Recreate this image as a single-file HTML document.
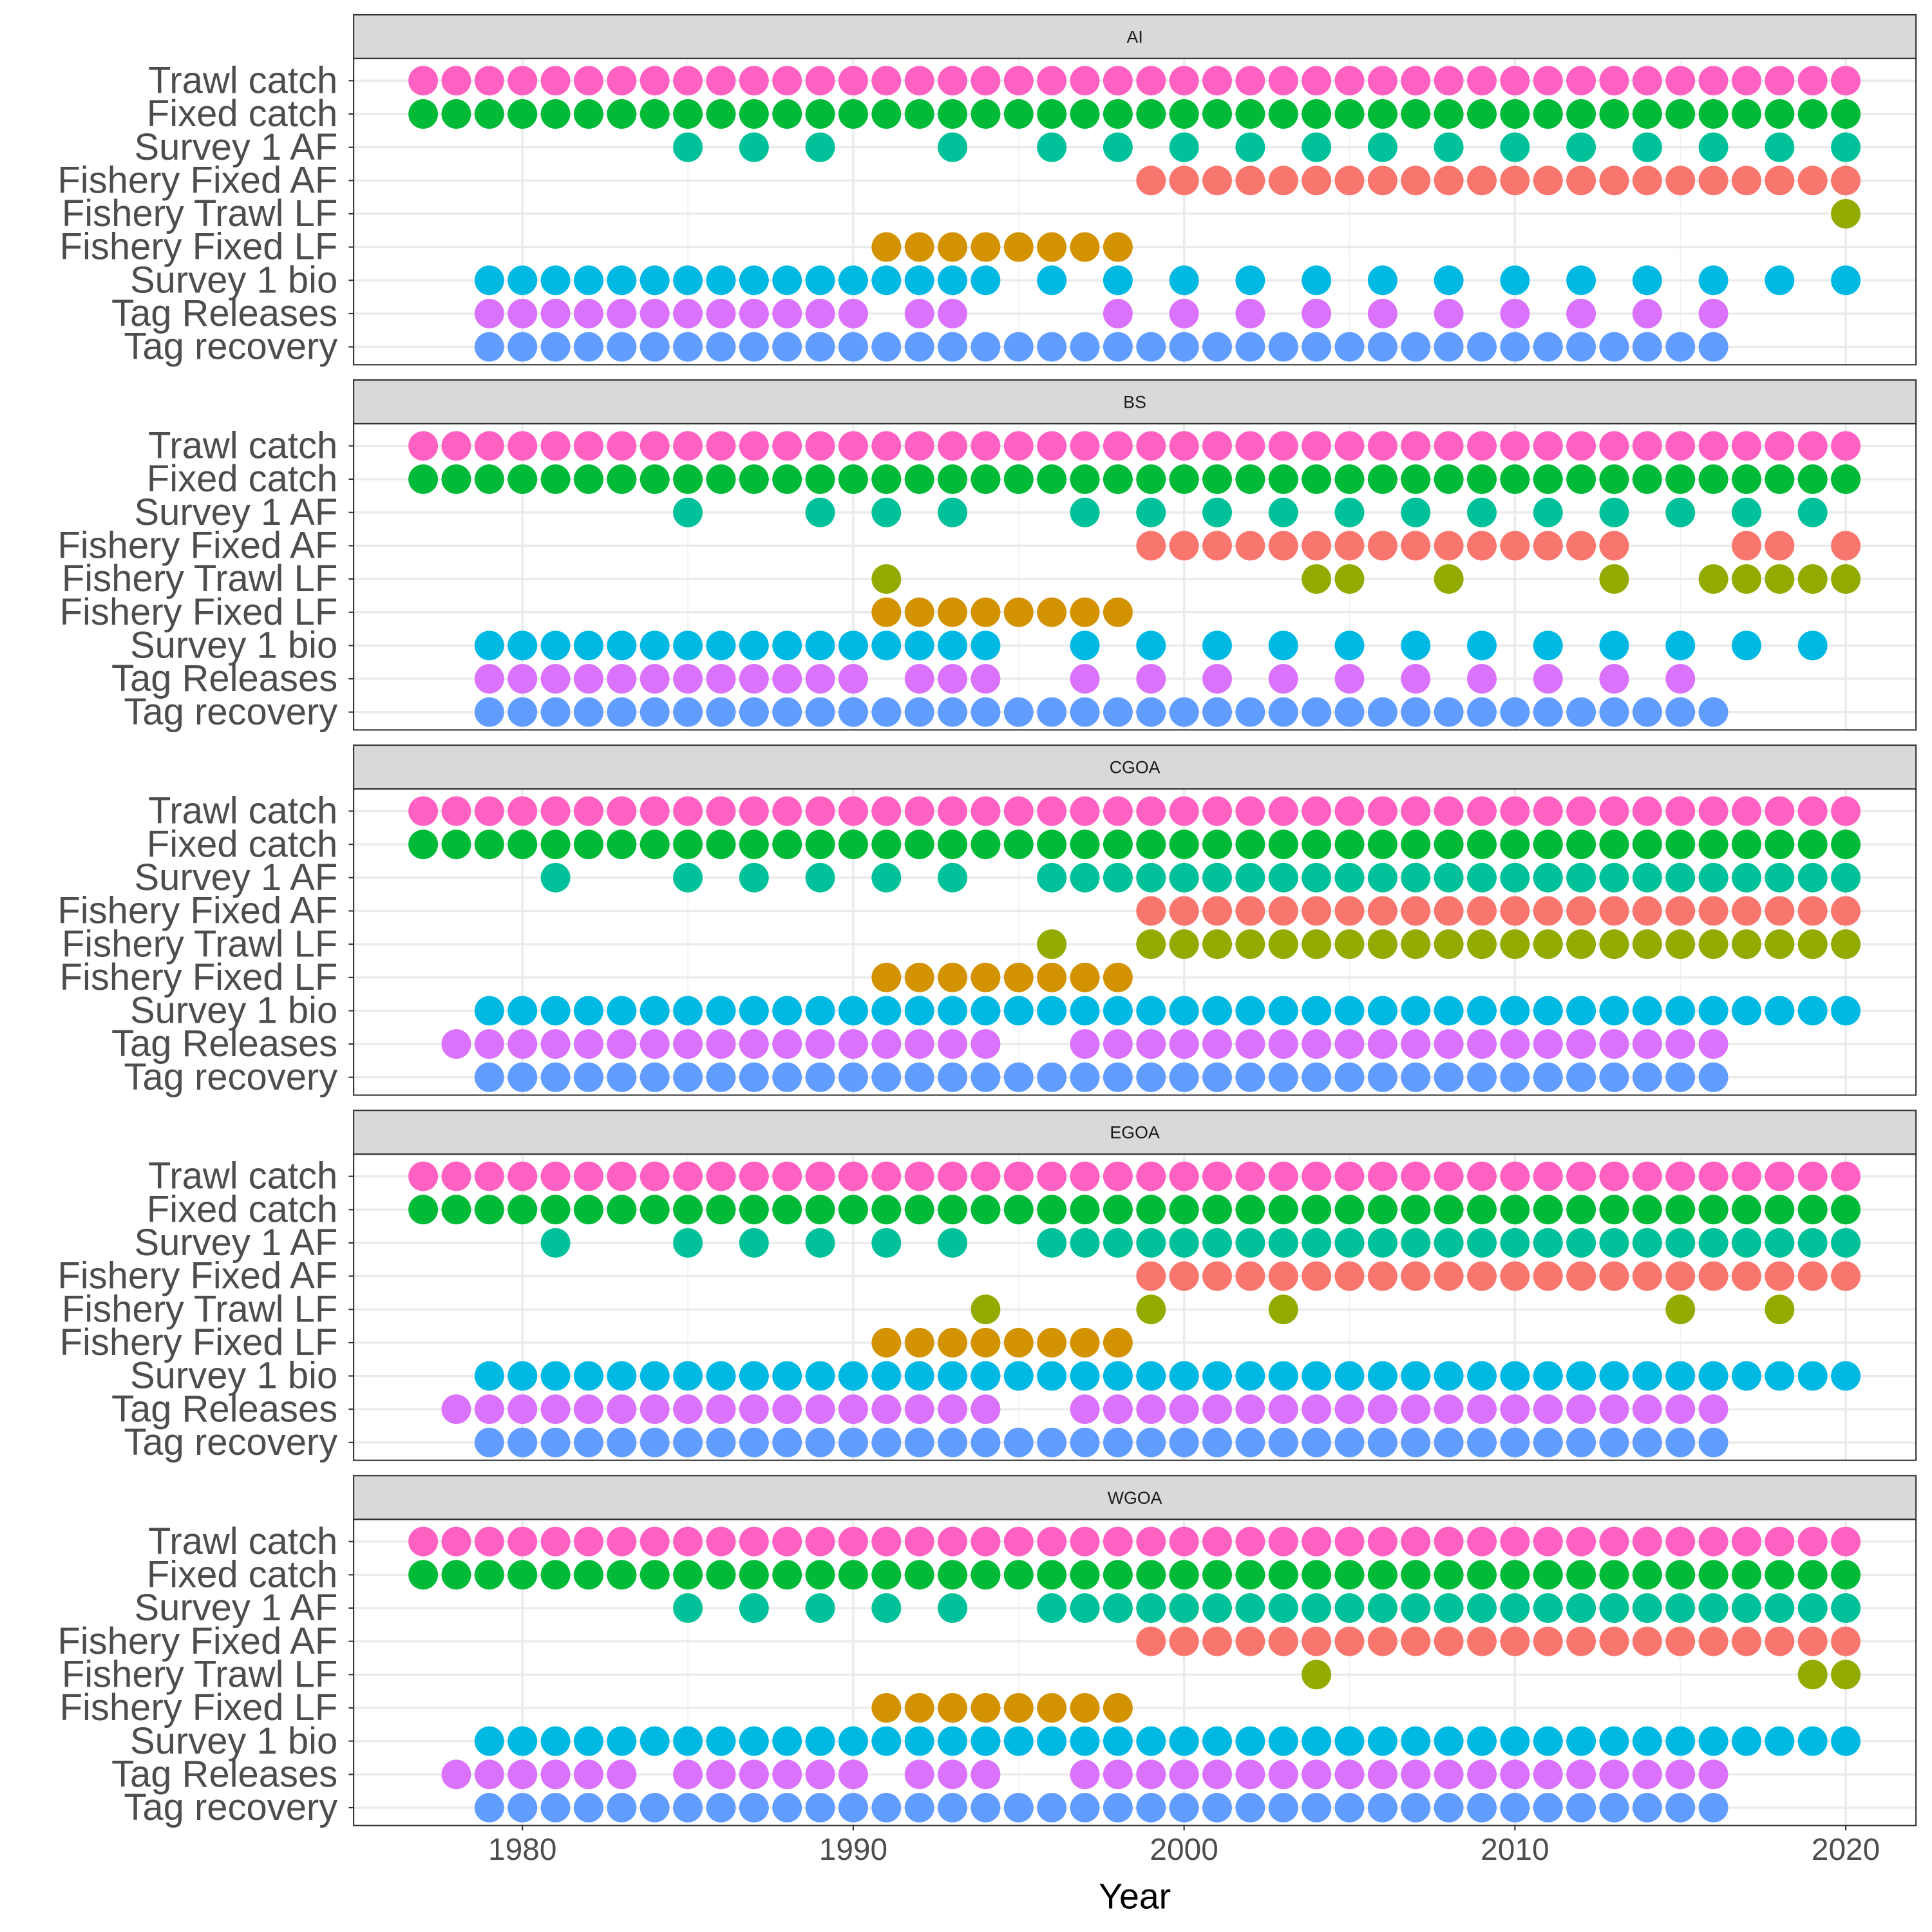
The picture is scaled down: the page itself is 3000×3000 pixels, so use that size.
<!DOCTYPE html>
<html><head><meta charset="utf-8"><style>
html,body{margin:0;padding:0;background:#fff;}
svg{display:block;font-family:"Liberation Sans",sans-serif;}
</style></head>
<body>
<svg id="chart" width="3000" height="3000" viewBox="0 0 1568 1568" xmlns="http://www.w3.org/2000/svg"></svg>
<script>
const rowLabels = ["Trawl catch","Fixed catch","Survey 1 AF","Fishery Fixed AF","Fishery Trawl LF","Fishery Fixed LF","Survey 1 bio","Tag Releases","Tag recovery"];
const rowColors = ["#FF61C3","#00BA38","#00C19A","#F8766D","#93AA00","#D39200","#00B9E3","#DB72FB","#619CFF"];
const panelNames = ["AI","BS","CGOA","EGOA","WGOA"];
const xTicks = [1980,1990,2000,2010,2020];
const xMinor = [1985,1995,2005,2015];

const allYears = [1977,1978,1979,1980,1981,1982,1983,1984,1985,1986,1987,1988,1989,1990,1991,1992,1993,1994,1995,1996,1997,1998,1999,2000,2001,2002,2003,2004,2005,2006,2007,2008,2009,2010,2011,2012,2013,2014,2015,2016,2017,2018,2019,2020];
const fixedLF = [1991,1992,1993,1994,1995,1996,1997,1998];
const fixedAF = [1999,2000,2001,2002,2003,2004,2005,2006,2007,2008,2009,2010,2011,2012,2013,2014,2015,2016,2017,2018,2019,2020];
const tagRecovery = [1979,1980,1981,1982,1983,1984,1985,1986,1987,1988,1989,1990,1991,1992,1993,1994,1995,1996,1997,1998,1999,2000,2001,2002,2003,2004,2005,2006,2007,2008,2009,2010,2011,2012,2013,2014,2015,2016];
const bioAll = [1979,1980,1981,1982,1983,1984,1985,1986,1987,1988,1989,1990,1991,1992,1993,1994,1995,1996,1997,1998,1999,2000,2001,2002,2003,2004,2005,2006,2007,2008,2009,2010,2011,2012,2013,2014,2015,2016,2017,2018,2019,2020];
const gulfAF = [1985,1987,1989,1991,1993,1996,1997,1998,1999,2000,2001,2002,2003,2004,2005,2006,2007,2008,2009,2010,2011,2012,2013,2014,2015,2016,2017,2018,2019,2020];

const aiData = [
 allYears, allYears,
 [1985,1987,1989,1993,1996,1998,2000,2002,2004,2006,2008,2010,2012,2014,2016,2018,2020],
 fixedAF,
 [2020],
 fixedLF,
 [1979,1980,1981,1982,1983,1984,1985,1986,1987,1988,1989,1990,1991,1992,1993,1994,1996,1998,2000,2002,2004,2006,2008,2010,2012,2014,2016,2018,2020],
 [1979,1980,1981,1982,1983,1984,1985,1986,1987,1988,1989,1990,1992,1993,1998,2000,2002,2004,2006,2008,2010,2012,2014,2016],
 tagRecovery
];
const bsData = [
 allYears, allYears,
 [1985,1989,1991,1993,1997,1999,2001,2003,2005,2007,2009,2011,2013,2015,2017,2019],
 [1999,2000,2001,2002,2003,2004,2005,2006,2007,2008,2009,2010,2011,2012,2013,2017,2018,2020],
 [1991,2004,2005,2008,2013,2016,2017,2018,2019,2020],
 fixedLF,
 [1979,1980,1981,1982,1983,1984,1985,1986,1987,1988,1989,1990,1991,1992,1993,1994,1997,1999,2001,2003,2005,2007,2009,2011,2013,2015,2017,2019],
 [1979,1980,1981,1982,1983,1984,1985,1986,1987,1988,1989,1990,1992,1993,1994,1997,1999,2001,2003,2005,2007,2009,2011,2013,2015],
 tagRecovery
];
const cgoaData = [
 allYears, allYears,
 [1981].concat(gulfAF),
 fixedAF,
 [1996,1999,2000,2001,2002,2003,2004,2005,2006,2007,2008,2009,2010,2011,2012,2013,2014,2015,2016,2017,2018,2019,2020],
 fixedLF,
 bioAll,
 [1978,1979,1980,1981,1982,1983,1984,1985,1986,1987,1988,1989,1990,1991,1992,1993,1994,1997,1998,1999,2000,2001,2002,2003,2004,2005,2006,2007,2008,2009,2010,2011,2012,2013,2014,2015,2016],
 tagRecovery
];
const egoaData = [
 allYears, allYears,
 [1981].concat(gulfAF),
 fixedAF,
 [1994,1999,2003,2015,2018],
 fixedLF,
 bioAll,
 [1978,1979,1980,1981,1982,1983,1984,1985,1986,1987,1988,1989,1990,1991,1992,1993,1994,1997,1998,1999,2000,2001,2002,2003,2004,2005,2006,2007,2008,2009,2010,2011,2012,2013,2014,2015,2016],
 tagRecovery
];
const wgoaData = [
 allYears, allYears,
 gulfAF,
 fixedAF,
 [2004,2019,2020],
 fixedLF,
 bioAll,
 [1978,1979,1980,1981,1982,1983,1985,1986,1987,1988,1989,1990,1992,1993,1994,1997,1998,1999,2000,2001,2002,2003,2004,2005,2006,2007,2008,2009,2010,2011,2012,2013,2014,2015,2016],
 tagRecovery
];
const panelData = [aiData,bsData,cgoaData,egoaData,wgoaData];

const NS="http://www.w3.org/2000/svg";
const svg=document.getElementById('chart');
const L=287,R=1555,pitch=296.4,stripH=35.5,panelH=284;
function xs(y){return 424+(y-1980)*26.85;}
function mk(tag,attrs,parent){const e=document.createElementNS(NS,tag);for(const k in attrs)e.setAttribute(k,attrs[k]);(parent||svg).appendChild(e);return e;}

panelNames.forEach((name,pi)=>{
  const top=12+pi*pitch, ptop=top+stripH, pbot=top+panelH;
  const g=mk('g',{});
  
  
  const strip=mk('rect',{x:L,y:top,width:R-L,height:stripH,fill:'#D9D9D9',stroke:'#333',"stroke-width":1.1},g);
  
  
  const st=mk('text',{x:(L+R)/2,y:top+stripH/2+5,'text-anchor':'middle','font-size':14,fill:'#1A1A1A'},g);
  st.textContent=name;
  
  
  xMinor.forEach(v=>mk('line',{x1:xs(v),x2:xs(v),y1:ptop,y2:pbot,stroke:'#F2F2F2','stroke-width':1},g));
  xTicks.forEach(v=>mk('line',{x1:xs(v),x2:xs(v),y1:ptop,y2:pbot,stroke:'#EBEBEB','stroke-width':1.8},g));
  rowLabels.forEach((lab,ri)=>{
    const y=ptop+18+ri*27;
    mk('line',{x1:L,x2:R,y1:y,y2:y,stroke:'#EBEBEB','stroke-width':1.8},g);
    mk('line',{x1:L-4,x2:L,y1:y,y2:y,stroke:'#333','stroke-width':1.1},g);
    const t=mk('text',{x:L-13,y:y+10,'text-anchor':'end','font-size':30.3,fill:'#4D4D4D'},g);
    t.textContent=lab;
    
    
    panelData[pi][ri].forEach(yr=>{
      const c=mk('circle',{cx:xs(yr),cy:y,r:12,fill:rowColors[ri]},g);
      
      
    });
  });
  mk('rect',{x:L,y:ptop,width:R-L,height:pbot-ptop,fill:'none',stroke:'#333','stroke-width':1.1},g);
});
const lastBot=12+4*pitch+panelH;
xTicks.forEach(v=>{
  mk('line',{x1:xs(v),x2:xs(v),y1:lastBot,y2:lastBot+4,stroke:'#333','stroke-width':1.1});
  const t=mk('text',{x:xs(v),y:lastBot+28,'text-anchor':'middle','font-size':25,fill:'#4D4D4D'});
  t.textContent=v;
  
  
});
const xt=mk('text',{x:(L+R)/2,y:1549,'text-anchor':'middle','font-size':29,fill:'#000'});
xt.textContent='Year';


</script>
</body></html>
